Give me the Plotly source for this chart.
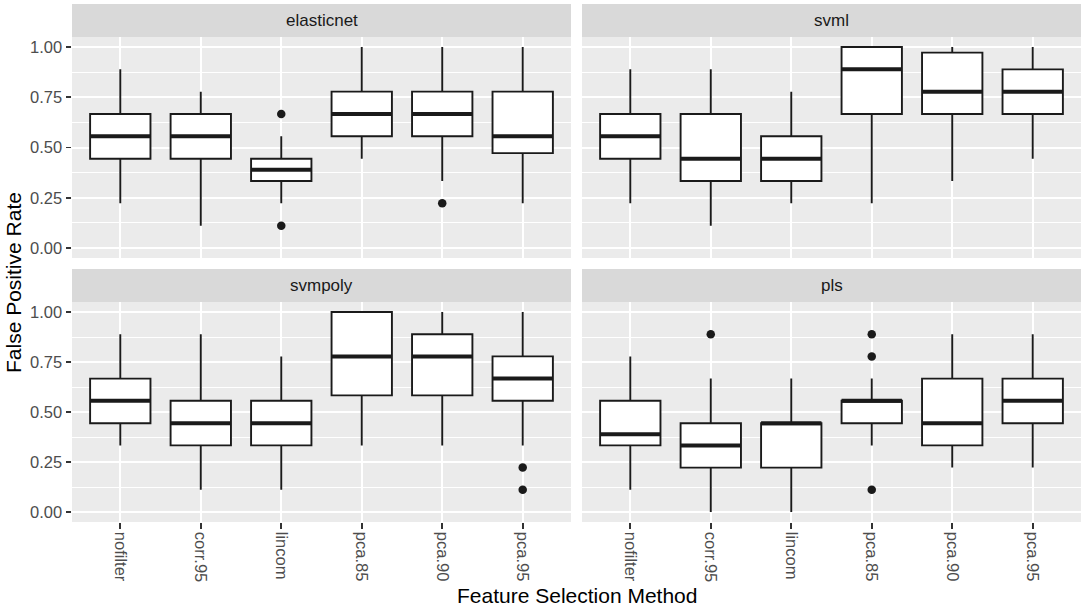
"""
    faceted boxplots of false positive rate per feature selection method
    ggplot look, done in plotly
"""

import plotly.graph_objects as go


####~~~~ data

methods = ["nofilter", "corr.95", "lincom", "pca.85", "pca.90", "pca.95"]
models = ["elasticnet", "svml", "svmpoly", "pls"]

# elasticnet
en_low = [0.222, 0.111, 0.222, 0.444, 0.333, 0.222]
en_q1 = [0.444, 0.444, 0.333, 0.556, 0.556, 0.472]
en_med = [0.556, 0.556, 0.389, 0.667, 0.667, 0.556]
en_q3 = [0.667, 0.667, 0.444, 0.778, 0.778, 0.778]
en_high = [0.889, 0.778, 0.556, 1.0, 1.0, 1.0]
en_out_method = ["lincom", "lincom", "pca.90"]
en_out_value = [0.667, 0.111, 0.222]

# svml
sl_low = [0.222, 0.111, 0.222, 0.222, 0.333, 0.444]
sl_q1 = [0.444, 0.333, 0.333, 0.667, 0.667, 0.667]
sl_med = [0.556, 0.444, 0.444, 0.889, 0.778, 0.778]
sl_q3 = [0.667, 0.667, 0.556, 1.0, 0.972, 0.889]
sl_high = [0.889, 0.889, 0.778, 1.0, 1.0, 1.0]
sl_out_method = []
sl_out_value = []

# svmpoly
sp_low = [0.333, 0.111, 0.111, 0.333, 0.333, 0.333]
sp_q1 = [0.444, 0.333, 0.333, 0.583, 0.583, 0.556]
sp_med = [0.556, 0.444, 0.444, 0.778, 0.778, 0.667]
sp_q3 = [0.667, 0.556, 0.556, 1.0, 0.889, 0.778]
sp_high = [0.889, 0.889, 0.778, 1.0, 1.0, 1.0]
sp_out_method = ["pca.95", "pca.95"]
sp_out_value = [0.222, 0.111]

# pls
pl_low = [0.111, 0.0, 0.0, 0.333, 0.222, 0.222]
pl_q1 = [0.333, 0.222, 0.222, 0.444, 0.333, 0.444]
pl_med = [0.389, 0.333, 0.444, 0.556, 0.444, 0.556]
pl_q3 = [0.556, 0.444, 0.444, 0.556, 0.667, 0.667]
pl_high = [0.778, 0.667, 0.667, 0.667, 0.889, 0.889]
pl_out_method = ["corr.95", "pca.85", "pca.85", "pca.85"]
pl_out_value = [0.889, 0.889, 0.778, 0.111]

y_ticks = [0, 0.25, 0.5, 0.75, 1.0]
y_minor = [0.125, 0.375, 0.625, 0.875]

x_title = "Feature Selection Method"
y_title = "False Positive Rate"


####~~~~ look

W, H = 1084, 608
FONT = "Liberation Sans, Arial, sans-serif"
INK = "#1A1A1A"
BOX_W = 0.75
TICK_SIZE = 16.5
STRIP_SIZE = 17
TITLE_SIZE = 21

# panel edges in pixels (left, right) and (top, bottom)
px_cols = [(72, 571), (582, 1081)]
px_rows = [(37, 258), (302, 522)]
strip_h = 33


def px_x(p):
    return p / W


def px_y(p):
    return 1 - p / H


####~~~~


def main():
    fig = go.Figure()

    panels = [
        (en_low, en_q1, en_med, en_q3, en_high, en_out_method, en_out_value),
        (sl_low, sl_q1, sl_med, sl_q3, sl_high, sl_out_method, sl_out_value),
        (sp_low, sp_q1, sp_med, sp_q3, sp_high, sp_out_method, sp_out_value),
        (pl_low, pl_q1, pl_med, pl_q3, pl_high, pl_out_method, pl_out_value),
    ]

    pos = [i + 1 for i in range(len(methods))]
    layout = {}
    shapes = []
    notes = []

    for k, (low, q1, med, q3, high, om, ov) in enumerate(panels):
        sfx = "" if k == 0 else str(k + 1)
        xa, ya = "x" + sfx, "y" + sfx
        row, col = k // 2, k % 2

        fig.add_trace(go.Box(
            x=pos, lowerfence=low, q1=q1, median=med, q3=q3, upperfence=high,
            width=BOX_W, whiskerwidth=0, boxpoints=False,
            fillcolor="white", line=dict(color=INK, width=1.9),
            hoverinfo="skip", showlegend=False, xaxis=xa, yaxis=ya,
        ))

        # ggplot draws the median fatter than the box edges
        mx, my = [], []
        for p, m in zip(pos, med):
            mx += [p - BOX_W / 2, p + BOX_W / 2, None]
            my += [m, m, None]
        fig.add_trace(go.Scatter(
            x=mx, y=my, mode="lines", line=dict(color=INK, width=4),
            hoverinfo="skip", showlegend=False, xaxis=xa, yaxis=ya,
        ))

        if om:
            fig.add_trace(go.Scatter(
                x=[methods.index(m) + 1 for m in om], y=ov, mode="markers",
                marker=dict(color=INK, size=8.5),
                hoverinfo="skip", showlegend=False, xaxis=xa, yaxis=ya,
            ))

        x0, x1 = px_cols[col]
        y0, y1 = px_rows[row]
        bottom = row == 1
        left = col == 0

        layout["xaxis" + sfx] = dict(
            domain=[px_x(x0), px_x(x1)], anchor=ya, automargin=False,
            range=[0.4, len(methods) + 0.6],
            tickvals=pos, ticktext=methods,
            showticklabels=bottom, ticks="outside" if bottom else "",
            ticklen=5.5, tickwidth=1.9, tickcolor="#333333", tickangle=90,
            tickfont=dict(family=FONT, size=TICK_SIZE, color="#4D4D4D"),
            showgrid=True, gridcolor="white", gridwidth=2,
            zeroline=False, showline=False, fixedrange=True,
        )
        layout["yaxis" + sfx] = dict(
            domain=[px_y(y1), px_y(y0)], anchor=xa, automargin=False,
            range=[-0.05, 1.05],
            tickvals=y_ticks, tickformat=".2f",
            showticklabels=left, ticks="outside" if left else "",
            ticklen=5.5, tickwidth=1.9, tickcolor="#333333",
            tickfont=dict(family=FONT, size=TICK_SIZE, color="#4D4D4D"),
            showgrid=True, gridcolor="white", gridwidth=2,
            minor=dict(tickvals=y_minor, showgrid=True, gridcolor="white",
                       gridwidth=1, ticks=""),
            zeroline=False, showline=False, fixedrange=True,
        )

        # facet strip
        shapes.append(dict(
            type="rect", xref="paper", yref="paper", layer="below",
            x0=px_x(x0), x1=px_x(x1), y0=px_y(y0), y1=px_y(y0 - strip_h),
            fillcolor="#D9D9D9", line=dict(width=0),
        ))
        notes.append(dict(
            text=models[k], xref="paper", yref="paper", showarrow=False,
            x=px_x((x0 + x1) / 2), y=px_y(y0 - strip_h / 2),
            xanchor="center", yanchor="middle",
            font=dict(family=FONT, size=STRIP_SIZE, color=INK),
        ))

    notes.append(dict(
        text=x_title, xref="paper", yref="paper", showarrow=False,
        x=px_x((px_cols[0][0] + px_cols[1][1]) / 2), y=px_y(595),
        xanchor="center", yanchor="middle",
        font=dict(family=FONT, size=TITLE_SIZE, color="black"),
    ))
    notes.append(dict(
        text=y_title, xref="paper", yref="paper", showarrow=False,
        x=px_x(13), y=px_y(283), textangle=-90,
        xanchor="center", yanchor="middle",
        font=dict(family=FONT, size=TITLE_SIZE, color="black"),
    ))

    fig.update_layout(
        width=W, height=H,
        margin=dict(l=0, r=0, t=0, b=0),
        paper_bgcolor="white", plot_bgcolor="#EBEBEB",
        shapes=shapes, annotations=notes,
        showlegend=False, hovermode=False,
        **layout,
    )

    # page body has an 8px default margin, drop it so the figure sits at 0,0
    fig.write_html(
        "out.html",
        config={"displayModeBar": False, "staticPlot": True},
        post_script="document.body.style.margin='0';",
    )


####~~~~


if __name__ == '__main__':
    main()
